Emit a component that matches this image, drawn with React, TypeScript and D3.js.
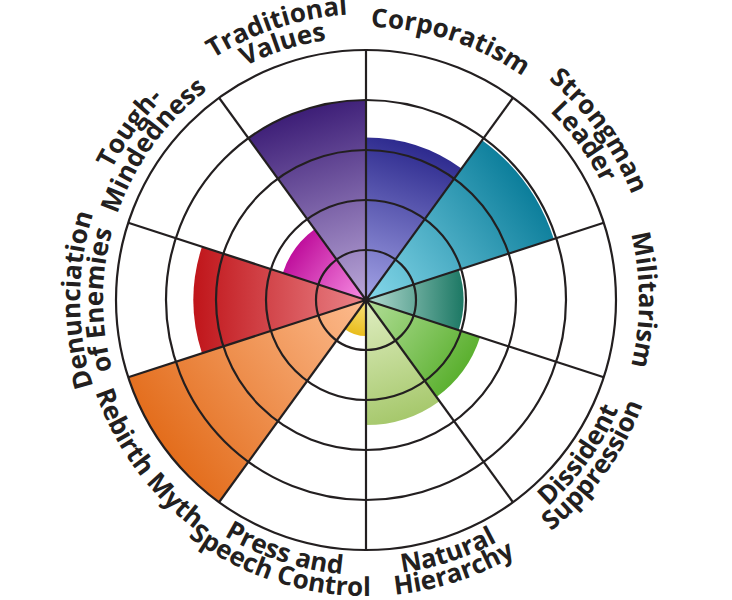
import * as d3 from 'd3';

const categories = [
  'Corporatism',
  'Strongman Leader',
  'Militarism',
  'Dissident Suppression',
  'Natural Hierarchy',
  'Press and Speech Control',
  'Rebirth Myth',
  'Denunciation of Enemies',
  'Tough-Mindedness',
  'Traditional Values',
];
const labelLines = [
  ['Corporatism'],
  ['Strongman', 'Leader'],
  ['Militarism'],
  ['Dissident', 'Suppression'],
  ['Natural', 'Hierarchy'],
  ['Press and', 'Speech Control'],
  ['Rebirth Myth'],
  ['Denunciation', 'of Enemies'],
  ['Tough-', 'Mindedness'],
  ['Traditional', 'Values'],
];
const values = [3.25, 3.95, 1.95, 2.4, 2.5, 0.72, 5, 3.45, 1.75, 4];
const outerColors = ['#2d2a8e', '#0c7e9b', '#1c7864', '#5bb02f', '#a6c86c', '#e9bd1c', '#e36d1c', '#c0151a', '#bf0f9c', '#3d1e77'];
const innerColors = ['#a3a3e6', '#86d8ea', '#b4dcd2', '#b2de98', '#e0eec2', '#f9e480', '#fcbb8e', '#ea8489', '#f88fe4', '#bba8d9'];
const ringLevels = [1, 2, 3, 4, 5];

const W = 732;
const H = 600;
const cx = 366;
const cy = 300;
const R = 250;
const ink = '#231f20';

export default function App() {
  const n = categories.length;
  const angle = d3.scaleLinear().domain([0, n]).range([0, 2 * Math.PI]);
  const r = d3.scaleLinear().domain([0, 5]).range([0, R]);
  const arc = d3.arc<number>();

  const pt = (a: number, rad: number) => [Math.sin(a) * rad, -Math.cos(a) * rad];

  // text runs clockwise on the top half (tops outward), counter-clockwise underneath
  const textArc = (mid: number, rad: number, cw: boolean) => {
    const span = (80 * Math.PI) / 180;
    const a0 = cw ? mid - span : mid + span;
    const a1 = cw ? mid + span : mid - span;
    const [x0, y0] = pt(a0, rad);
    const [x1, y1] = pt(a1, rad);
    return `M${x0},${y0} A${rad},${rad} 0 0 ${cw ? 1 : 0} ${x1},${y1}`;
  };

  return (
    <svg width={W} height={H} style={{ position: 'absolute', left: 0, top: 0, background: '#fff' }}>
      <defs>
        {categories.map((c, i) => {
          const mid = (angle(i) + angle(i + 1)) / 2;
          const [x2, y2] = pt(mid, r(values[i]));
          return (
            <linearGradient key={c} id={`g${i}`} gradientUnits="userSpaceOnUse" x1={0} y1={0} x2={x2} y2={y2}>
              <stop offset="0" stopColor={innerColors[i]} />
              <stop offset="1" stopColor={outerColors[i]} />
            </linearGradient>
          );
        })}
        {labelLines.map((lines, i) => {
          const mid = (angle(i) + angle(i + 1)) / 2;
          const deg = (mid * 180) / Math.PI;
          const cw = !(deg > 90 && deg < 270);
          const radii = cw
            ? lines.length === 1 ? [273] : [286, 263]
            : lines.length === 1 ? [286] : [275, 296];
          return lines.map((l, j) => (
            <path key={`${i}-${j}`} id={`t${i}-${j}`} d={textArc(mid, radii[j], cw)} fill="none" />
          ));
        })}
      </defs>
      <g transform={`translate(${cx},${cy})`}>
        {values.map((v, i) => (
          <path
            key={categories[i]}
            d={arc({ innerRadius: 0, outerRadius: r(v), startAngle: angle(i), endAngle: angle(i + 1) } as any) || ''}
            fill={`url(#g${i})`}
          />
        ))}
        {ringLevels.map((k) => (
          <circle key={k} r={r(k)} fill="none" stroke={ink} strokeWidth={2.2} />
        ))}
        {categories.map((c, i) => {
          const [x, y] = pt(angle(i), R);
          return <line key={c} x1={0} y1={0} x2={x} y2={y} stroke={ink} strokeWidth={2.2} />;
        })}
        <circle r={3} fill={ink} />
        {labelLines.map((lines, i) =>
          lines.map((l, j) => (
            <text
              key={`${i}-${j}`}
              fontFamily="'Open Sans', sans-serif"
              fontWeight={700}
              fontSize={26}
              fill={ink}
            >
              <textPath href={`#t${i}-${j}`} startOffset="50%" textAnchor="middle">
                {l}
              </textPath>
            </text>
          ))
        )}
      </g>
    </svg>
  );
}
